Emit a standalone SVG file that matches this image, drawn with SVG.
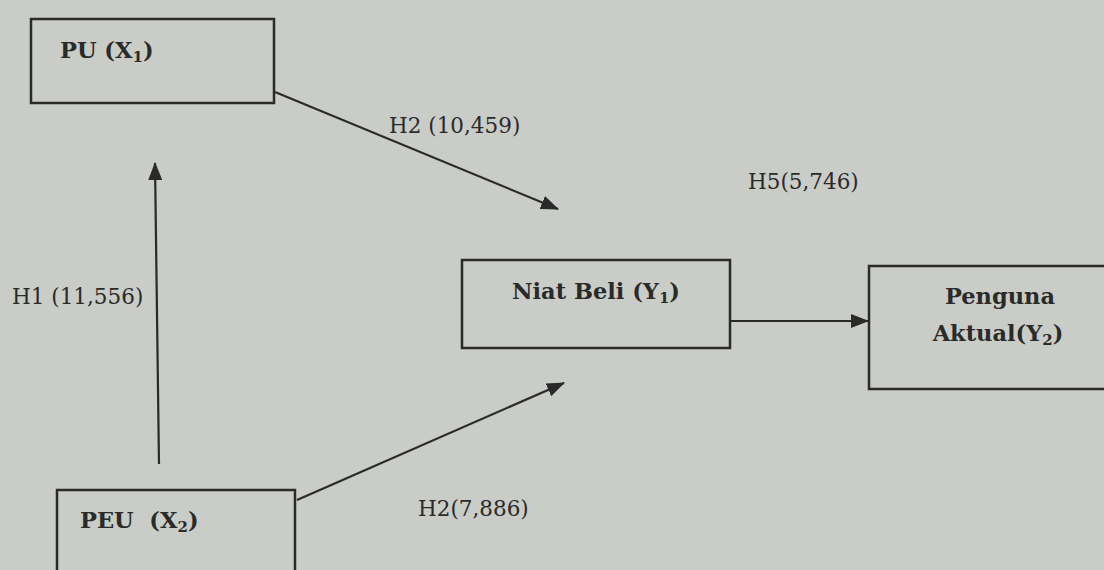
<svg xmlns="http://www.w3.org/2000/svg" width="1104" height="570" viewBox="0 0 1104 570">
<defs>
<marker id="ah" markerWidth="18" markerHeight="14" refX="17" refY="7" orient="auto" markerUnits="userSpaceOnUse">
<path d="M0,0 L18,7 L0,14 Z" fill="#2a2a2a"/>
</marker>
<style>
.box{fill:none;stroke:#2a2a2a;stroke-width:2.5}
.lbl{font-family:"DejaVu Serif","Liberation Serif",serif;font-weight:bold;font-size:22.5px;fill:#2a2a2a}
.sub{font-size:15px}
.num{font-family:"DejaVu Serif","Liberation Serif",serif;font-size:21.5px;fill:#2a2a2a}
.con{stroke:#2a2a2a;stroke-width:2.2;fill:none;marker-end:url(#ah)}
</style>
</defs>
<rect width="1104" height="570" fill="#c9ccc7"/>
<g id="pu">
<rect class="box" x="31" y="19" width="243" height="84"/>
<text class="lbl" x="60" y="58">PU (X<tspan class="sub" dy="4">1</tspan><tspan dy="-4">)</tspan></text>
</g>
<g id="niat">
<rect class="box" x="462" y="260" width="268" height="88"/>
<text class="lbl" x="596" y="299" text-anchor="middle">Niat Beli (Y<tspan class="sub" dy="4">1</tspan><tspan dy="-4">)</tspan></text>
</g>
<g id="penguna">
<rect class="box" x="869" y="266" width="250" height="123"/>
<text class="lbl" x="1000" y="304" text-anchor="middle">Penguna</text>
<text class="lbl" x="998" y="341" text-anchor="middle">Aktual(Y<tspan class="sub" dy="4">2</tspan><tspan dy="-4">)</tspan></text>
</g>
<g id="peu">
<rect class="box" x="57" y="490" width="238" height="100"/>
<text class="lbl" x="80" y="528">PEU&#160; (X<tspan class="sub" dy="4">2</tspan><tspan dy="-4">)</tspan></text>
</g>
<g id="connectors">
<line class="con" x1="159" y1="464" x2="155" y2="163"/>
<line class="con" x1="275" y1="92" x2="558" y2="209"/>
<line class="con" x1="297" y1="500" x2="564" y2="383"/>
<line class="con" x1="731" y1="321" x2="868" y2="321"/>
</g>
<g id="labels">
<text class="num" x="389" y="133">H2 (10,459)</text>
<text class="num" x="748" y="189">H5(5,746)</text>
<text class="num" x="12" y="304">H1 (11,556)</text>
<text class="num" x="418" y="516">H2(7,886)</text>
</g>
</svg>
